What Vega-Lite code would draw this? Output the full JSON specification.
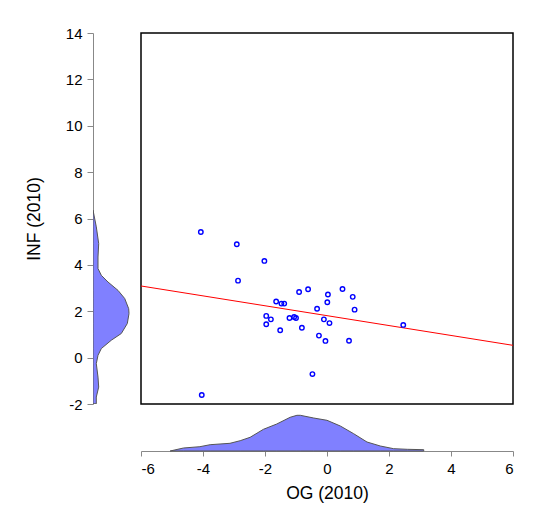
{
  "$schema": "https://vega.github.io/schema/vega-lite/v6.json",
  "background": "white",
  "padding": {"left": 25, "top": 26, "right": 5, "bottom": 5},
  "config": {
    "font": "Liberation Sans",
    "view": {"stroke": null},
    "axis": {
      "grid": false,
      "domainColor": "#888888",
      "tickColor": "#888888",
      "labelColor": "black",
      "titleColor": "black",
      "labelFont": "Liberation Sans",
      "titleFont": "Liberation Sans",
      "labelFontSize": 15,
      "titleFontSize": 17.5,
      "titleFontWeight": "normal",
      "tickSize": 5,
      "labelPadding": 5,
      "labelExpr": "'' + datum.value"
    }
  },
  "datasets": {
    "scatter": [
      {"OG": -4.07, "INF": 5.42}, {"OG": -2.91, "INF": 4.89}, {"OG": -2.02, "INF": 4.17},
      {"OG": -2.87, "INF": 3.32}, {"OG": -0.90, "INF": 2.83}, {"OG": -0.61, "INF": 2.95},
      {"OG": 0.50, "INF": 2.96}, {"OG": 0.03, "INF": 2.72}, {"OG": 0.83, "INF": 2.62},
      {"OG": 0.01, "INF": 2.39}, {"OG": -1.64, "INF": 2.42}, {"OG": -1.47, "INF": 2.33},
      {"OG": -1.38, "INF": 2.33}, {"OG": -0.32, "INF": 2.11}, {"OG": 0.89, "INF": 2.07},
      {"OG": -1.96, "INF": 1.80}, {"OG": -1.81, "INF": 1.65}, {"OG": -1.96, "INF": 1.44},
      {"OG": -1.21, "INF": 1.71}, {"OG": -1.06, "INF": 1.75}, {"OG": -1.00, "INF": 1.71},
      {"OG": -0.10, "INF": 1.65}, {"OG": 0.08, "INF": 1.49}, {"OG": -0.81, "INF": 1.29},
      {"OG": -1.51, "INF": 1.18}, {"OG": -0.26, "INF": 0.95}, {"OG": -0.05, "INF": 0.72},
      {"OG": 0.71, "INF": 0.73}, {"OG": 2.46, "INF": 1.41}, {"OG": -0.47, "INF": -0.71},
      {"OG": -4.04, "INF": -1.61}
    ],
    "fit": [
      {"OG": -6, "INF": 3.09},
      {"OG": 6, "INF": 0.53}
    ],
    "infDensity": [
      {"INF": -1.99, "density": 0.033}, {"INF": -1.70, "density": 0.033},
      {"INF": -1.27, "density": 0.057}, {"INF": -0.84, "density": 0.05},
      {"INF": -0.26, "density": 0.033}, {"INF": 0.10, "density": 0.05},
      {"INF": 0.39, "density": 0.083}, {"INF": 0.75, "density": 0.183},
      {"INF": 1.04, "density": 0.283}, {"INF": 1.47, "density": 0.343},
      {"INF": 1.90, "density": 0.36}, {"INF": 2.11, "density": 0.357},
      {"INF": 2.55, "density": 0.317}, {"INF": 2.90, "density": 0.25},
      {"INF": 3.26, "density": 0.15}, {"INF": 3.55, "density": 0.083},
      {"INF": 3.84, "density": 0.05}, {"INF": 4.34, "density": 0.05},
      {"INF": 4.92, "density": 0.057}, {"INF": 5.64, "density": 0.033},
      {"INF": 6.36, "density": 0.0}
    ],
    "ogDensity": [
      {"OG": -5.06, "density": 0.0}, {"OG": -4.63, "density": 0.03},
      {"OG": -4.10, "density": 0.043}, {"OG": -3.77, "density": 0.063},
      {"OG": -3.13, "density": 0.077}, {"OG": -2.80, "density": 0.103},
      {"OG": -2.48, "density": 0.137}, {"OG": -2.05, "density": 0.217},
      {"OG": -1.62, "density": 0.27}, {"OG": -1.19, "density": 0.337},
      {"OG": -0.97, "density": 0.357}, {"OG": -0.86, "density": 0.357},
      {"OG": -0.43, "density": 0.33}, {"OG": 0.0, "density": 0.307},
      {"OG": 0.43, "density": 0.25}, {"OG": 0.86, "density": 0.173},
      {"OG": 1.29, "density": 0.09}, {"OG": 1.72, "density": 0.05},
      {"OG": 2.15, "density": 0.023}, {"OG": 2.59, "density": 0.017},
      {"OG": 3.12, "density": 0.013}
    ]
  },
  "columns": 2,
  "spacing": {"row": 7, "column": 0},
  "bounds": "flush",
  "align": "each",
  "concat": [
    {
      "width": 48,
      "height": 371,
      "data": {"name": "infDensity"},
      "mark": {"type": "area", "orient": "horizontal", "fill": "#8080ff", "stroke": "#555555", "strokeWidth": 1, "clip": true},
      "encoding": {
        "y": {
          "field": "INF", "type": "quantitative",
          "scale": {"domain": [-2, 14], "nice": false, "zero": false},
          "axis": {"title": "INF (2010)", "values": [-2, 0, 2, 4, 6, 8, 10, 12, 14], "titlePadding": 22, "tickSize": 6}
        },
        "x": {
          "field": "density", "type": "quantitative",
          "scale": {"domain": [0, 0.48], "nice": false},
          "axis": null
        }
      }
    },
    {
      "width": 372,
      "height": 371,
      "view": {"stroke": "black", "strokeWidth": 1.5},
      "layer": [
        {
          "data": {"name": "fit"},
          "mark": {"type": "line", "color": "#ff0000", "strokeWidth": 1, "clip": true},
          "encoding": {
            "x": {"field": "OG", "type": "quantitative", "scale": {"domain": [-6, 6], "nice": false}, "axis": null},
            "y": {"field": "INF", "type": "quantitative", "scale": {"domain": [-2, 14], "nice": false, "zero": false}, "axis": null}
          }
        },
        {
          "data": {"name": "scatter"},
          "mark": {"type": "point", "shape": "circle", "filled": false, "color": "#0000ff", "size": 20, "strokeWidth": 1.4, "opacity": 1},
          "encoding": {
            "x": {"field": "OG", "type": "quantitative", "scale": {"domain": [-6, 6], "nice": false}, "axis": null},
            "y": {"field": "INF", "type": "quantitative", "scale": {"domain": [-2, 14], "nice": false, "zero": false}, "axis": null}
          }
        }
      ]
    },
    {
      "width": 48,
      "height": 40,
      "data": {"values": [{"a": 0}]},
      "mark": {"type": "point", "opacity": 0},
      "encoding": {}
    },
    {
      "width": 372,
      "height": 40,
      "data": {"name": "ogDensity"},
      "mark": {"type": "area", "fill": "#8080ff", "stroke": "#555555", "strokeWidth": 1},
      "encoding": {
        "x": {
          "field": "OG", "type": "quantitative",
          "scale": {"domain": [-6, 6], "nice": false},
          "axis": {"title": "OG (2010)", "values": [-6, -4, -2, 0, 2, 4, 6], "titlePadding": 8}
        },
        "y": {
          "field": "density", "type": "quantitative",
          "scale": {"domain": [0, 0.40], "nice": false},
          "axis": null
        }
      }
    }
  ]
}
